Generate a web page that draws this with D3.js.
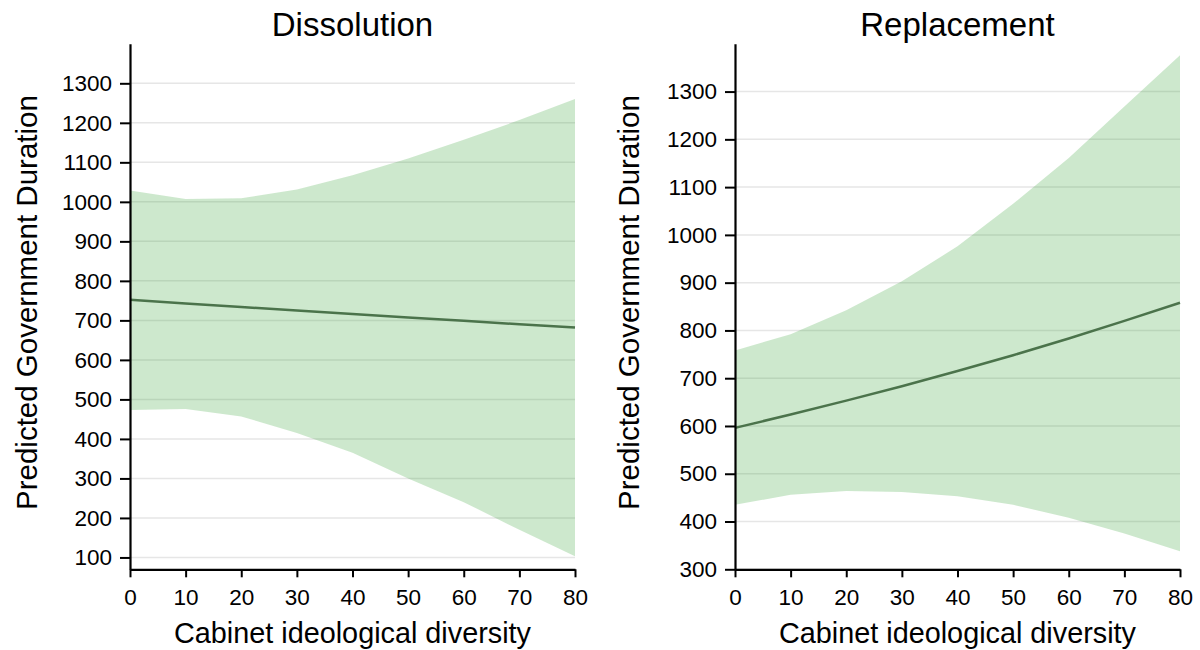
<!DOCTYPE html>
<html>
<head>
<meta charset="utf-8">
<script src="https://cdn.jsdelivr.net/npm/d3@7"></script>
<style>
  html, body { margin: 0; padding: 0; background: #fff; }
  svg text { font-family: "Liberation Sans", Arial, sans-serif; fill: #000; }
</style>
</head>
<body>
<svg id="chart" width="1200" height="650"></svg>
<script>
// Cabinet ideological diversity grid shared by both panels
const diversity = [0, 10, 20, 30, 40, 50, 60, 70, 80];
const xTicks = [0, 10, 20, 30, 40, 50, 60, 70, 80];

// Dissolution: predicted duration with 95% interval
const dissolutionFit   = [752, 743, 734, 725, 716, 707, 699, 690, 682];
const dissolutionLower = [473, 476, 457, 415, 365, 300, 240, 170, 103];
const dissolutionUpper = [1029, 1007, 1009, 1031, 1067, 1110, 1157, 1207, 1260];
const dissolutionTicks = [100, 200, 300, 400, 500, 600, 700, 800, 900, 1000, 1100, 1200, 1300];

// Replacement: predicted duration with 95% interval
const replacementFit   = [596, 624, 653, 683, 715, 748, 783, 820, 858];
const replacementLower = [435, 456, 464, 462, 453, 435, 408, 375, 338];
const replacementUpper = [758, 792, 842, 903, 976, 1065, 1161, 1269, 1376];
const replacementTicks = [300, 400, 500, 600, 700, 800, 900, 1000, 1100, 1200, 1300];

const panels = [
  { title: "Dissolution", fit: dissolutionFit, lower: dissolutionLower, upper: dissolutionUpper,
    ticks: dissolutionTicks, yDomain: [70, 1400], left: 130, right: 575, ylabX: 37 },
  { title: "Replacement", fit: replacementFit, lower: replacementLower, upper: replacementUpper,
    ticks: replacementTicks, yDomain: [300, 1400], left: 735, right: 1180, ylabX: 639 }
];

const svg = d3.select("#chart");
const plotTop = 43.8, plotBottom = 569.3;
const fontStack = "'Liberation Sans', Arial, sans-serif";

panels.forEach(p => {
  const x = d3.scaleLinear().domain([0, 80]).range([p.left, p.right]);
  const y = d3.scaleLinear().domain(p.yDomain).range([plotBottom, plotTop]);
  const g = svg.append("g");

  // horizontal gridlines
  g.append("g").selectAll("line").data(p.ticks).join("line")
    .attr("x1", p.left).attr("x2", p.right)
    .attr("y1", d => y(d)).attr("y2", d => y(d))
    .attr("stroke", "#e6e6e6").attr("stroke-width", 1.5);

  const rows = diversity.map((d, i) => ({ x: d, lo: p.lower[i], hi: p.upper[i], fit: p.fit[i] }));

  // confidence band
  g.append("path").datum(rows)
    .attr("d", d3.area().x(d => x(d.x)).y0(d => y(d.lo)).y1(d => y(d.hi)))
    .attr("fill", "#2ca02c").attr("fill-opacity", 0.24);

  // fitted line
  g.append("path").datum(rows)
    .attr("d", d3.line().x(d => x(d.x)).y(d => y(d.fit)))
    .attr("fill", "none").attr("stroke", "#4b734b").attr("stroke-width", 2.5);

  // axes
  const yAxis = g.append("g").attr("transform", `translate(${p.left},0)`)
    .call(d3.axisLeft(y).tickValues(p.ticks).tickFormat(d3.format("d"))
      .tickSize(10).tickSizeOuter(0).tickPadding(8));
  const xAxis = g.append("g").attr("transform", `translate(0,${plotBottom})`)
    .call(d3.axisBottom(x).tickValues(xTicks).tickFormat(d3.format("d"))
      .tickSize(8).tickSizeOuter(0).tickPadding(11.5));
  [yAxis, xAxis].forEach(a => {
    a.select(".domain").attr("stroke", "#000").attr("stroke-width", 2.2);
    a.selectAll(".tick line").attr("stroke", "#000").attr("stroke-width", 2);
    a.selectAll(".tick text").attr("font-size", 22.5).attr("fill", "#000")
      .style("font-family", fontStack);
  });

  // titles
  g.append("text").attr("x", (p.left + p.right) / 2).attr("y", 36)
    .attr("text-anchor", "middle").attr("font-size", 33).text(p.title);
  g.append("text").attr("x", (p.left + p.right) / 2).attr("y", 643)
    .attr("text-anchor", "middle").attr("font-size", 28.8).text("Cabinet ideological diversity");
  g.append("text")
    .attr("transform", `translate(${p.ylabX},${(plotTop + plotBottom) / 2 - 4}) rotate(-90)`)
    .attr("text-anchor", "middle").attr("font-size", 29.5).text("Predicted Government Duration");
});
</script>
</body>
</html>
